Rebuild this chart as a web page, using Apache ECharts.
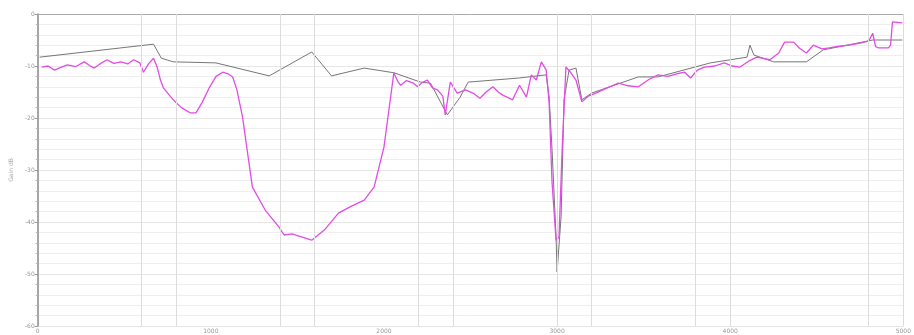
<!DOCTYPE html>
<html>
<head>
<meta charset="utf-8">
<script src="https://cdn.jsdelivr.net/npm/echarts@6/dist/echarts.min.js"></script>
<style>
  html, body { margin: 0; padding: 0; background: #fff; }
  #chart { width: 914px; height: 335px; }
</style>
</head>
<body>
<div id="chart"></div>
<script>
// Frequency sweep (MHz) and measured level (dB)
const measFreq = [23, 60, 97, 130, 171, 220, 269, 300, 326, 360, 400, 440, 480, 520, 554, 590, 611, 640, 669, 690, 709, 726, 783, 830, 880, 914, 950, 994, 1030, 1069, 1100, 1126, 1150, 1183, 1240, 1314, 1394, 1423, 1470, 1509, 1583, 1657, 1737, 1810, 1886, 1943, 2000, 2057, 2080, 2097, 2130, 2171, 2194, 2220, 2251, 2280, 2309, 2340, 2354, 2383, 2423, 2470, 2514, 2554, 2590, 2629, 2660, 2686, 2743, 2783, 2823, 2851, 2880, 2909, 2937, 2954, 2971, 2994, 3011, 3029, 3051, 3080, 3109, 3143, 3180, 3223, 3290, 3354, 3410, 3469, 3530, 3583, 3640, 3700, 3737, 3771, 3810, 3851, 3910, 3966, 4010, 4057, 4110, 4154, 4229, 4280, 4314, 4366, 4400, 4440, 4480, 4530, 4571, 4630, 4686, 4750, 4800, 4823, 4840, 4857, 4914, 4926, 4937, 4994];
const measLevel = [-10.2, -10.0, -10.8, -10.3, -9.8, -10.1, -9.2, -9.9, -10.4, -9.6, -8.8, -9.5, -9.2, -9.6, -8.8, -9.4, -11.2, -9.6, -8.5, -10.2, -12.7, -14.2, -16.5, -18.0, -19.0, -19.0, -17.0, -14.0, -12.0, -11.2, -11.5, -12.1, -14.5, -19.8, -33.3, -37.7, -41.0, -42.5, -42.3, -42.7, -43.5, -41.5, -38.3, -37.0, -35.8, -33.3, -25.6, -11.3, -13.0, -13.7, -12.8, -13.3, -14.0, -13.2, -12.7, -14.2, -14.6, -15.8, -19.4, -13.1, -15.2, -14.6, -15.2, -16.2, -15.0, -14.0, -15.0, -15.6, -16.5, -13.7, -16.0, -11.7, -12.7, -9.2, -10.8, -17.1, -32.5, -43.5, -42.9, -26.2, -10.2, -11.3, -12.7, -16.9, -15.8, -15.2, -14.2, -13.3, -13.8, -14.0, -12.6, -11.7, -12.0, -11.4, -11.2, -12.3, -10.8, -10.2, -10.0, -9.4, -10.0, -10.2, -9.0, -8.3, -8.8, -7.5, -5.4, -5.4, -6.6, -7.5, -6.0, -6.7, -6.5, -6.2, -6.0, -5.6, -5.2, -3.7, -6.3, -6.5, -6.5, -6.0, -1.5, -1.7];

// Reference trace
const refFreq = [11, 669, 714, 783, 1029, 1337, 1583, 1697, 1886, 2057, 2211, 2269, 2366, 2440, 2486, 2783, 2937, 2954, 2971, 2994, 3000, 3023, 3040, 3069, 3109, 3143, 3200, 3469, 3583, 3886, 4097, 4114, 4137, 4251, 4440, 4537, 4823, 4994];
const refLevel = [-8.3, -5.8, -8.5, -9.2, -9.4, -11.9, -7.3, -11.9, -10.4, -11.3, -13.1, -13.3, -19.4, -16.0, -13.1, -12.3, -11.7, -16.0, -26.2, -42.9, -49.6, -39.0, -16.5, -10.8, -10.4, -16.5, -15.2, -12.1, -12.1, -9.4, -8.3, -6.0, -7.9, -9.2, -9.2, -6.9, -5.0, -5.0];

// Vertical grid markers (MHz)
const gridFreq = [600, 800, 1400, 1600, 2200, 2400, 3000, 3200, 3800, 4000, 4800, 5000];

const yAxisName = 'Gain dB';

const zip = (xs, ys) => xs.map((x, i) => [x, ys[i]]);

const chart = echarts.init(document.getElementById('chart'), null, { renderer: 'canvas' });
chart.setOption({
  animation: false,
  backgroundColor: '#fff',
  grid: { left: 33, right: 6, top: 14, bottom: 9, containLabel: false },
  xAxis: {
    type: 'value', min: 0, max: 5000, interval: 1000,
    axisLine: { show: true, lineStyle: { color: '#aaa', width: 1 } },
    axisTick: { show: false },
    axisLabel: { fontSize: 6, color: '#999', margin: 2, fontFamily: 'DejaVu Sans', formatter: v => String(v) },
    splitLine: { show: false }
  },
  yAxis: {
    type: 'value', min: -60, max: 0, interval: 10,
    name: yAxisName, nameLocation: 'middle', nameGap: 18, nameRotate: 90,
    nameTextStyle: { fontSize: 6, color: '#aaa', fontFamily: 'DejaVu Sans' },
    axisLine: { show: true, lineStyle: { color: '#888', width: 1.5 } },
    axisTick: { show: true, length: 3, lineStyle: { color: '#999' } },
    minorTick: { show: true, splitNumber: 5, length: 2, lineStyle: { color: '#bbb' } },
    axisLabel: { fontSize: 6, color: '#999', margin: 3, fontFamily: 'DejaVu Sans' },
    splitLine: { show: true, lineStyle: { color: '#e6e6e6', width: 1 } },
    minorSplitLine: { show: true, lineStyle: { color: '#eeeeee', width: 1 } }
  },
  series: [
    {
      name: 'ref', type: 'line', data: zip(refFreq, refLevel),
      symbol: 'none', z: 3,
      lineStyle: { color: '#666', width: 0.9 },
      markLine: {
        silent: true, symbol: 'none', label: { show: false },
        lineStyle: { color: '#dcdcdc', width: 1, type: 'solid' },
        data: gridFreq.map(f => ({ xAxis: f }))
      }
    },
    {
      name: 'meas', type: 'line', data: zip(measFreq, measLevel),
      symbol: 'none', z: 4,
      lineStyle: { color: '#e24be6', width: 1.3 }
    }
  ]
});
</script>
</body>
</html>
